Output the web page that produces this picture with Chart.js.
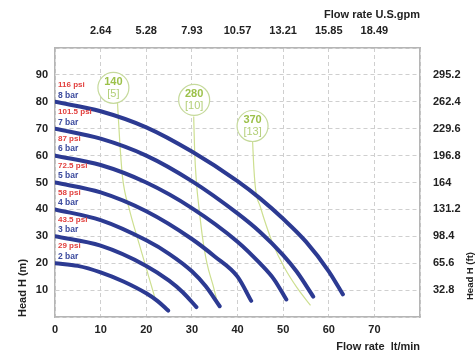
<!DOCTYPE html>
<html>
<head>
<meta charset="utf-8">
<script src="https://cdn.jsdelivr.net/npm/chart.js@4"></script>
<style>
  body { margin: 0; background: #fff; }
  #wrap { width: 475px; height: 356px; }
</style>
</head>
<body>
<div id="wrap"><canvas id="pumpChart" width="475" height="356"></canvas></div>
<script>
// Axis labels
const flowTicks = [0, 10, 20, 30, 40, 50, 60, 70];
const gpmTicks = [10, 20, 30, 40, 50, 60, 70];
const gpmLabels = ['2.64', '5.28', '7.93', '10.57', '13.21', '15.85', '18.49'];
const headTicks = [10, 20, 30, 40, 50, 60, 70, 80, 90];
const ftLabels = ['32.8', '65.6', '98.4', '131.2', '164', '196.8', '229.6', '262.4', '295.2'];

// Inlet air pressure for each curve
const barValues = [2, 3, 4, 5, 6, 7, 8];
const psiValues = ['29', '43.5', '58', '72.5', '87', '101.5', '116'];

// Pump curves: flow (lt/min) and head (m)
const flow2bar = [0, 5, 10, 15, 20, 22.5, 24.8];
const head2bar = [20, 19, 16.6, 13.2, 8.8, 5.9, 2.4];
const flow3bar = [0, 10, 20, 25, 28, 31];
const head3bar = [30, 26.5, 19, 13.5, 9.2, 3.7];
const flow4bar = [0, 10, 20, 25, 30, 33, 36.1];
const head4bar = [40, 36, 28.5, 23.5, 17, 11.5, 4];
const flow5bar = [0, 10, 20, 30, 35, 40, 43];
const head5bar = [50, 46.3, 39.3, 29, 22.5, 15, 6];
const flow6bar = [0, 10, 20, 30, 40, 45, 48, 50.7];
const head6bar = [60, 56.5, 50, 40.5, 28, 19.8, 14, 6.5];
const flow7bar = [0, 10, 20, 30, 40, 45, 50, 53, 56.6];
const head7bar = [70, 66.3, 60, 50.5, 38.5, 31.5, 23, 16.8, 7.6];
const flow8bar = [0, 10, 20, 30, 40, 45, 50, 55, 60, 63.1];
const head8bar = [80, 76.5, 70.5, 61.5, 50.5, 44, 36.5, 28, 17, 8.4];

// Air consumption lines (Nl/min [scfm])
const flowAir140 = [13.7, 14.2, 14.8, 16.3, 18.3, 20.2, 22.1];
const headAir140 = [79.5, 65, 52, 40, 28, 17, 6];
const flowAir280 = [30.4, 30.6, 31, 31.6, 32.3, 33.3, 34.6, 35.7];
const headAir280 = [74.5, 62, 50, 40, 30, 20, 12, 4.8];
const flowAir370 = [43.3, 43.6, 44, 45, 46.3, 47.8, 50.3, 53, 56];
const headAir370 = [65.5, 55, 47, 41, 34, 27, 18.3, 11, 4.3];

const airLabels = ['140', '280', '370'];
const airScfm = ['[5]', '[10]', '[13]'];
const airFlow = [12.8, 30.5, 43.3];
const airHead = [85.2, 80.7, 71];

const FONT = "'Liberation Sans', Arial, sans-serif";
Chart.defaults.font.family = FONT;

function toPoints(q, h) {
    return q.map((v, i) => ({ x: v, y: h[i] }));
}

const pumpCurves = [
    [flow8bar, head8bar], [flow7bar, head7bar], [flow6bar, head6bar], [flow5bar, head5bar],
    [flow4bar, head4bar], [flow3bar, head3bar], [flow2bar, head2bar]
];
const airLines = [[flowAir140, headAir140], [flowAir280, headAir280], [flowAir370, headAir370]];

let datasets = [];
pumpCurves.forEach(c => {
    datasets.push({
        data: toPoints(c[0], c[1]),
        borderColor: '#2c3a92',
        borderWidth: 4,
        borderCapStyle: 'round',
        pointRadius: 0,
        cubicInterpolationMode: 'monotone'
    });
});
airLines.forEach(c => {
    datasets.push({
        data: toPoints(c[0], c[1]),
        borderColor: '#cddf90',
        borderWidth: 1.2,
        pointRadius: 0,
        cubicInterpolationMode: 'monotone'
    });
});

// circles, pressure labels and right axis title
const extras = {
    id: 'extras',
    afterDatasetsDraw(chart) {
        const ctx = chart.ctx;
        const x = chart.scales.x;
        const y = chart.scales.y;
        ctx.save();

        airLabels.forEach((lbl, i) => {
            const cx = x.getPixelForValue(airFlow[i]);
            const cy = y.getPixelForValue(airHead[i]);
            ctx.beginPath();
            ctx.arc(cx, cy, 15.5, 0, Math.PI * 2);
            ctx.fillStyle = '#fff';
            ctx.fill();
            ctx.lineWidth = 1.2;
            ctx.strokeStyle = '#c6da9c';
            ctx.stroke();
            ctx.textAlign = 'center';
            ctx.textBaseline = 'middle';
            ctx.fillStyle = '#9cc14a';
            ctx.font = 'bold 11px ' + FONT;
            ctx.fillText(lbl, cx, cy - 6);
            ctx.fillStyle = '#b3cf78';
            ctx.font = '11px ' + FONT;
            ctx.fillText(airScfm[i], cx, cy + 6);
        });

        ctx.textAlign = 'left';
        ctx.textBaseline = 'middle';
        const lx = x.getPixelForValue(0) + 3;
        barValues.forEach((b, i) => {
            const py = y.getPixelForValue(b * 10);
            ctx.font = 'bold 8px ' + FONT;
            ctx.fillStyle = '#e2403e';
            ctx.fillText(psiValues[i] + ' psi', lx, py - 17);
            ctx.font = 'bold 8.5px ' + FONT;
            ctx.fillStyle = '#3b4a9e';
            ctx.fillText(b + ' bar', lx, py - 6.5);
        });

        ctx.translate(chart.width - 4.5, chart.chartArea.bottom - 17);
        ctx.rotate(-Math.PI / 2);
        ctx.font = 'bold 9.5px ' + FONT;
        ctx.fillStyle = '#222';
        ctx.fillText('Head H (ft)', 0, 0);
        ctx.restore();
    }
};

const tickFont = { size: 11, weight: 'bold' };
const gridDash = { color: '#b5b5b5', width: 1.5, dash: [4, 3] };

new Chart(document.getElementById('pumpChart'), {
    type: 'line',
    data: { datasets: datasets },
    options: {
        responsive: false,
        animation: false,
        devicePixelRatio: 1,
        layout: { padding: 0 },
        plugins: { legend: { display: false }, tooltip: { enabled: false } },
        scales: {
            x: {
                type: 'linear', position: 'bottom', min: 0, max: 80,
                ticks: {
                    stepSize: 10, padding: 6, color: '#222', font: tickFont, maxRotation: 0, autoSkip: false,
                    callback: v => flowTicks.includes(v) ? String(v) : ''
                },
                grid: { color: '#cfcfcf', lineWidth: 1, drawTicks: false },
                border: gridDash,
                title: {
                    display: true, text: 'Flow rate  lt/min', align: 'end', color: '#222',
                    font: tickFont, padding: { top: 0, bottom: 2 }
                },
                afterFit: s => { s.height = 39; }
            },
            xTop: {
                type: 'linear', position: 'top', min: 0, max: 80,
                ticks: {
                    stepSize: 10, padding: 10, color: '#222', font: tickFont, maxRotation: 0, autoSkip: false,
                    callback: v => gpmTicks.includes(v) ? gpmLabels[gpmTicks.indexOf(v)] : ''
                },
                grid: { display: false, drawTicks: false },
                border: { color: '#b5b5b5', width: 1.5 },
                title: {
                    display: true, text: 'Flow rate U.S.gpm', align: 'end', color: '#222',
                    font: tickFont, padding: { top: 8, bottom: 0 }
                },
                afterFit: s => { s.height = 48; }
            },
            y: {
                type: 'linear', position: 'left', min: 0, max: 100,
                ticks: {
                    stepSize: 10, padding: 7, color: '#222', font: tickFont, autoSkip: false,
                    callback: v => headTicks.includes(v) ? String(v) : ''
                },
                grid: { color: '#cfcfcf', lineWidth: 1, drawTicks: false },
                border: gridDash,
                title: {
                    display: true, text: 'Head H (m)', align: 'start', color: '#222',
                    font: tickFont, padding: { top: 16, bottom: 0 }
                },
                afterFit: s => { s.width = 55; }
            },
            yRight: {
                type: 'linear', position: 'right', min: 0, max: 100,
                ticks: {
                    stepSize: 10, padding: 13, color: '#222', font: tickFont, autoSkip: false,
                    callback: v => headTicks.includes(v) ? ftLabels[headTicks.indexOf(v)] : ''
                },
                grid: { display: false, drawTicks: false },
                border: { color: '#b5b5b5', width: 1.5 },
                afterFit: s => { s.width = 55; }
            }
        }
    },
    plugins: [extras]
});
</script>
</body>
</html>
